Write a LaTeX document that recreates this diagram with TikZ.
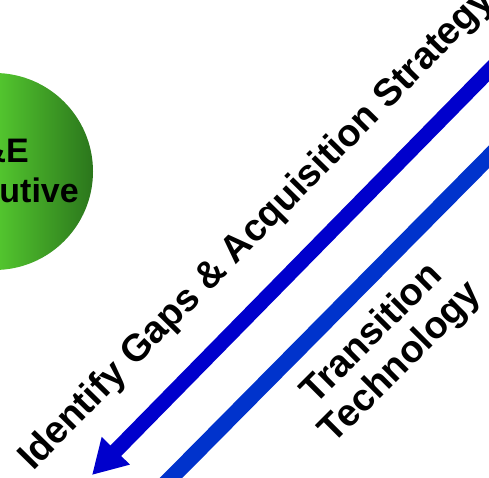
\documentclass[tikz,border=0pt]{standalone}
\usepackage{fontspec}
\setmainfont{Liberation Sans}
\usetikzlibrary{arrows.meta}
\definecolor{arrowdark}{HTML}{0000CC}
\definecolor{arrowlight}{HTML}{0033CC}
\definecolor{greenlight}{HTML}{52C42E}
\definecolor{greendark}{HTML}{2B761C}
\begin{document}
\begin{tikzpicture}[x=1pt,y=1pt,
  lbl/.style={font=\fontsize{38}{41}\selectfont\bfseries, text=black, inner sep=0pt},
  circlbl/.style={font=\fontsize{34}{40}\selectfont\bfseries, text=black, inner sep=0pt},
  flow/.style={line width=15pt}]
\useasboundingbox (0,0) rectangle (489,478);
\clip (0,0) rectangle (489,478);
% green circle
\node[circle, minimum size=197pt, inner sep=0pt, path picture={
  \fill[greenlight] (path picture bounding box.south west) rectangle ([xshift=104pt]path picture bounding box.north west);
  \shade[left color=greenlight, right color=greendark] ([xshift=104pt]path picture bounding box.south west) rectangle (path picture bounding box.north east);
}] (exec) at (-5.5,306.5) {};
\node[circlbl, anchor=base east] (execA) at (29,315) {\&E};
\node[circlbl, anchor=base east] (execB) at (79,275) {utive};
% arrows
\coordinate (dstart) at (530,449);
\coordinate (dtip) at (92,3);
\draw[flow, arrowdark, -{Triangle[length=34pt,width=37pt]}] (dstart) -- (dtip);
\coordinate (lstart) at (530,362.6);
\coordinate (lend) at (160,-11.1);
\draw[flow, line width=16pt, arrowlight] (lstart) -- (lend);
% labels
\node[lbl, rotate=45.5, anchor=base west] (gaps) at (33,6) {Identify Gaps \& Acquisition Strategy};
\node[lbl, rotate=45, align=center] (trans) at (387,129) {Transition\\Technology};
\end{tikzpicture}
\end{document}
